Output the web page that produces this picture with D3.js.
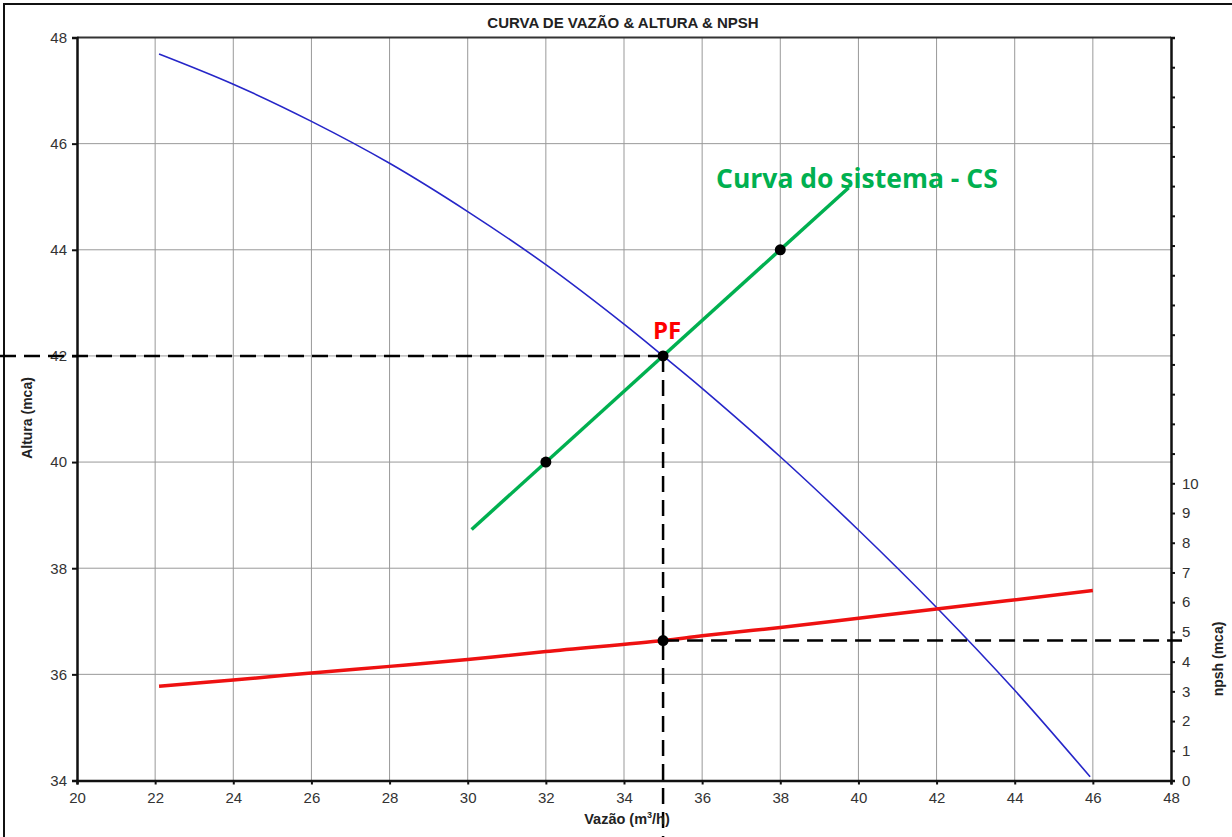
<!DOCTYPE html>
<html>
<head>
<meta charset="utf-8">
<script src="https://cdn.jsdelivr.net/npm/d3@7"></script>
<style>
  body { margin: 0; background: #fff; }
  svg { display: block; font-family: "Liberation Sans", Arial, sans-serif; }
</style>
</head>
<body>
<div id="chart-container"></div>
<script>
// dados
const vazaoBomba = [22.1, 24, 26, 28, 30, 32, 34, 35, 36, 38, 40, 42, 44, 45.93];
const alturaBomba = [47.69, 47.12, 46.42, 45.63, 44.72, 43.72, 42.6, 42.0, 41.39, 40.1, 38.72, 37.26, 35.7, 34.07];

const vazaoNpsh = [22.1, 24, 26, 28, 30, 32, 35, 36, 38, 40, 42, 46];
const npshValores = [3.17, 3.38, 3.62, 3.84, 4.07, 4.34, 4.71, 4.87, 5.15, 5.46, 5.77, 6.39];

const vazaoSistema = [30.1, 39.75];
const alturaSistema = [38.73, 45.17];
const pontosSistema = [[32, 40], [35, 42], [38, 44]];

const pontoPF = { vazao: 35, altura: 42, npsh: 4.71 };

const xTicks = d3.range(20, 49, 2);
const yTicks = d3.range(34, 49, 2);
const npshTicks = d3.range(0, 26, 1);
const npshLabels = d3.range(0, 11, 1);

// dimensões
const W = 1232, H = 837;
const plot = { left: 77, right: 1171, top: 37.5, bottom: 780.5 };

const x = d3.scaleLinear().domain([20, 48]).range([plot.left, plot.right]);
const y = d3.scaleLinear().domain([34, 48]).range([plot.bottom, plot.top]);
const yN = d3.scaleLinear().domain([0, 25]).range([plot.bottom, plot.top]);

const svg = d3.select("#chart-container")
  .append("svg")
  .attr("width", W)
  .attr("height", H);

// moldura externa
svg.append("rect")
  .attr("x", 4).attr("y", 4)
  .attr("width", W + 10).attr("height", H + 10)
  .attr("fill", "none")
  .attr("stroke", "#111")
  .attr("stroke-width", 2);

// grade
svg.append("g")
  .selectAll("line")
  .data(xTicks.slice(1, -1))
  .join("line")
  .attr("x1", d => x(d)).attr("x2", d => x(d))
  .attr("y1", plot.top).attr("y2", plot.bottom)
  .attr("stroke", "#999").attr("stroke-width", 1);

svg.append("g")
  .selectAll("line")
  .data(yTicks.slice(1, -1))
  .join("line")
  .attr("x1", plot.left).attr("x2", plot.right)
  .attr("y1", d => y(d)).attr("y2", d => y(d))
  .attr("stroke", "#999").attr("stroke-width", 1);

// borda superior
svg.append("line")
  .attr("x1", plot.left).attr("x2", plot.right)
  .attr("y1", plot.top).attr("y2", plot.top)
  .attr("stroke", "#333").attr("stroke-width", 2);

// eixos
const axisX = svg.append("g")
  .attr("transform", `translate(0,${plot.bottom})`)
  .call(d3.axisBottom(x).tickValues(xTicks).tickSize(4).tickPadding(8).tickFormat(d3.format("d")));

const axisY = svg.append("g")
  .attr("transform", `translate(${plot.left},0)`)
  .call(d3.axisLeft(y).tickValues(yTicks).tickSize(5).tickPadding(5).tickFormat(d3.format("d")));

const axisN = svg.append("g")
  .attr("transform", `translate(${plot.right},0)`)
  .call(d3.axisRight(yN).tickValues(npshTicks).tickSize(4).tickPadding(7)
    .tickFormat(d => npshLabels.includes(d) ? d : ""));

[axisX, axisY, axisN].forEach(g => {
  g.select(".domain").attr("stroke", "#111").attr("stroke-width", 2.5);
  g.selectAll(".tick line").attr("stroke", "#111").attr("stroke-width", 2);
  g.selectAll(".tick text")
    .attr("fill", "#333")
    .style("font-size", "15px")
    .style("font-family", "'Liberation Sans', Arial, sans-serif");
});

// curva da bomba
const bomba = vazaoBomba.map((v, i) => [v, alturaBomba[i]]);
svg.append("path")
  .datum(bomba)
  .attr("fill", "none")
  .attr("stroke", "#2626c8")
  .attr("stroke-width", 1.6)
  .attr("d", d3.line().x(d => x(d[0])).y(d => y(d[1])).curve(d3.curveCatmullRom));

// curva npsh
const npsh = vazaoNpsh.map((v, i) => [v, npshValores[i]]);
svg.append("path")
  .datum(npsh)
  .attr("fill", "none")
  .attr("stroke", "#ee1111")
  .attr("stroke-width", 3.5)
  .attr("d", d3.line().x(d => x(d[0])).y(d => yN(d[1])).curve(d3.curveCatmullRom));

// curva do sistema
const sistema = vazaoSistema.map((v, i) => [v, alturaSistema[i]]);
svg.append("path")
  .datum(sistema)
  .attr("fill", "none")
  .attr("stroke", "#00b050")
  .attr("stroke-width", 3.5)
  .attr("d", d3.line().x(d => x(d[0])).y(d => y(d[1])));

// linhas tracejadas
const dash = "16,8";
svg.append("line")
  .attr("x1", 0).attr("x2", x(pontoPF.vazao))
  .attr("y1", y(pontoPF.altura)).attr("y2", y(pontoPF.altura))
  .attr("stroke", "#000").attr("stroke-width", 2.5).attr("stroke-dasharray", dash);

svg.append("line")
  .attr("x1", x(pontoPF.vazao)).attr("x2", x(pontoPF.vazao))
  .attr("y1", y(pontoPF.altura)).attr("y2", H)
  .attr("stroke", "#000").attr("stroke-width", 2.5).attr("stroke-dasharray", dash);

svg.append("line")
  .attr("x1", x(pontoPF.vazao)).attr("x2", plot.right + 11)
  .attr("y1", yN(pontoPF.npsh)).attr("y2", yN(pontoPF.npsh))
  .attr("stroke", "#000").attr("stroke-width", 2.5).attr("stroke-dasharray", dash);

// pontos
svg.append("g")
  .selectAll("circle")
  .data(pontosSistema)
  .join("circle")
  .attr("cx", d => x(d[0])).attr("cy", d => y(d[1]))
  .attr("r", 5.5).attr("fill", "#000");

svg.append("circle")
  .attr("cx", x(pontoPF.vazao)).attr("cy", yN(pontoPF.npsh))
  .attr("r", 5.5).attr("fill", "#000");

// textos
svg.append("text")
  .attr("x", 623).attr("y", 28)
  .attr("text-anchor", "middle")
  .style("font-size", "15px")
  .style("font-weight", "bold")
  .attr("fill", "#222")
  .text("CURVA DE VAZÃO & ALTURA & NPSH");

svg.append("text")
  .attr("transform", "translate(32,418) rotate(-90)")
  .attr("text-anchor", "middle")
  .style("font-size", "14px")
  .style("font-weight", "bold")
  .attr("fill", "#222")
  .text("Altura (mca)");

svg.append("text")
  .attr("transform", "translate(1223,659) rotate(-90)")
  .attr("text-anchor", "middle")
  .style("font-size", "14px")
  .style("font-weight", "bold")
  .attr("fill", "#222")
  .text("npsh (mca)");

const xTitle = svg.append("text")
  .attr("x", 627).attr("y", 824)
  .attr("text-anchor", "middle")
  .style("font-size", "14.5px")
  .style("font-weight", "bold")
  .attr("fill", "#222");
xTitle.append("tspan").text("Vazão (m");
xTitle.append("tspan").attr("dy", -6).style("font-size", "9px").text("3");
xTitle.append("tspan").attr("dy", 6).text("/h)");

svg.append("text")
  .attr("x", 667).attr("y", 339)
  .attr("text-anchor", "middle")
  .style("font-family", "'Open Sans', sans-serif")
  .style("font-size", "24px")
  .style("font-weight", "bold")
  .attr("fill", "#ff0000")
  .text("PF");

svg.append("text")
  .attr("x", 716).attr("y", 188)
  .style("font-family", "'Open Sans', sans-serif")
  .style("font-size", "26.5px")
  .style("font-weight", "bold")
  .attr("fill", "#00b050")
  .text("Curva do sistema - CS");
</script>
</body>
</html>
